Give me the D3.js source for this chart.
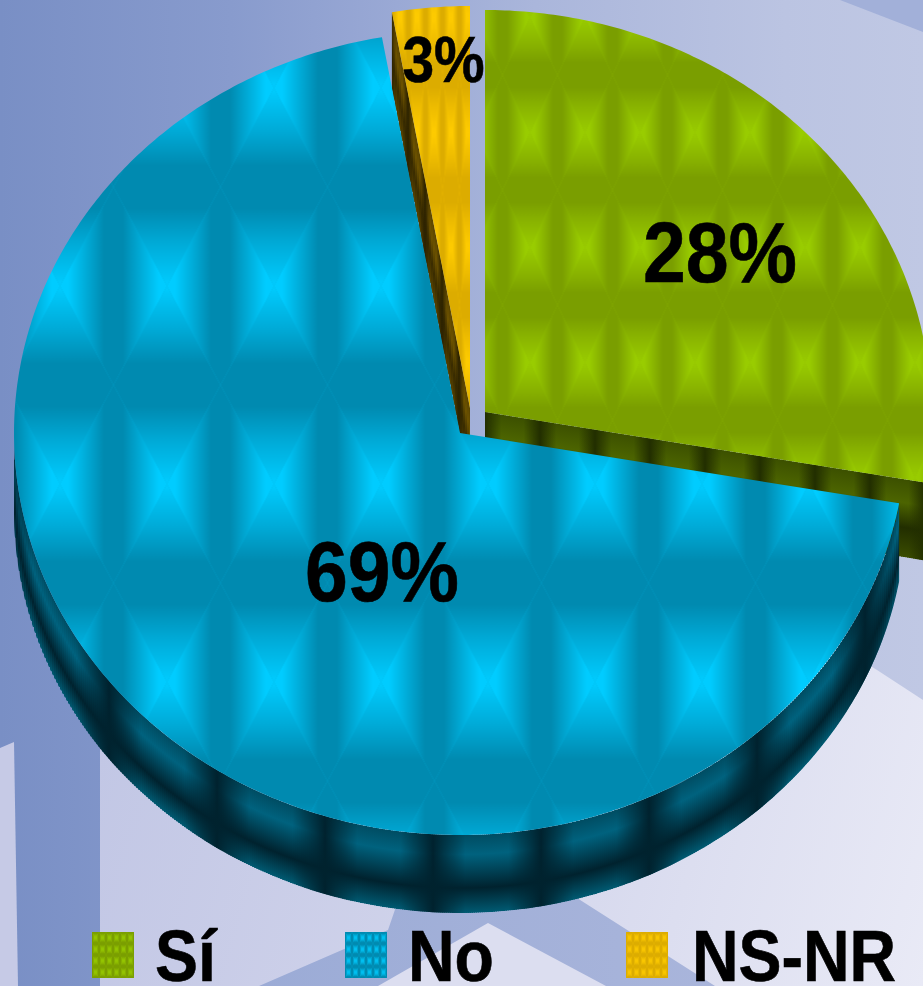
<!DOCTYPE html>
<html lang="es">
<head>
<meta charset="utf-8">
<script src="https://cdn.jsdelivr.net/npm/d3@7/dist/d3.min.js"></script>
<style>
html,body{margin:0;padding:0;background:#fff}
svg{display:block}
text{font-family:"Liberation Sans",Arial,sans-serif;font-weight:700;fill:#000;stroke:#000;stroke-width:.6px}
</style>
</head>
<body>
<div id="chart"></div>
<script>
// ---- data ----
const categories = ["Sí", "No", "NS-NR"];
const shares = [27.8, 69.4, 2.8];          // they print as 28 / 69 / 3 %

// ---- styling & layout ----
const W = 923, H = 986;
const rx = 446, ry = 402, depth = 78;
const centres = [[485, 412], [460, 433], [470, 408]];
const labelPos = [[720, 282], [382, 601], [443.5, 82]];
const labelScale = [[.895, 1], [.895, 1], [.875, 1]];
const labelSize = [86, 86, 65];
const legendSwatchX = [92, 345, 626];
const legendTextX = [155, 408, 692];
const faceDark = ["#7a9e00", "#008ab0", "#dcac00"];
const faceBright = ["#99cc00", "#00ccff", "#ffcc00"];
const wallStops = [
  [[0, "#3c5000"], [.3, "#4c6400"], [.62, "#222e00"], [1, "#3a4c00"]],
  [[0, "#004c62"], [.25, "#00627e"], [.68, "#00222e"], [1, "#005a72"]],
  [[0, "#5a4400"], [.3, "#6c5200"], [.62, "#3a2c00"], [1, "#5a4400"]]
];
const wallDark = ["#222e00", "#00222e", "#2c2200"];
const tiles = [
  {x: 502.5, y: 75, w: 55, h: 115},
  {x: 113.5, y: 187, w: 107, h: 198},
  {x: 425.5, y: 75, w: 17, h: 115}
];
const wallRib = [{x: 485, w: 55}, {x: 109, w: 108}, {x: 425, w: 17}];

const svg = d3.select("#chart").append("svg").attr("width", W).attr("height", H);
const defs = svg.append("defs");

function gradient(id, x1, y1, x2, y2, stops, units) {
  const g = defs.append("linearGradient").attr("id", id)
    .attr("gradientUnits", units || "userSpaceOnUse")
    .attr("x1", x1).attr("y1", y1).attr("x2", x2).attr("y2", y2);
  stops.forEach(s => {
    const st = g.append("stop").attr("offset", s[0]).attr("stop-color", s[1]);
    if (s[2] !== undefined) st.attr("stop-opacity", s[2]);
  });
}

function pillow(id, t, dark, bright) {
  const mix = d3.interpolateRgb(dark, bright);
  const vStops = [[0, dark], [.22, dark], [.58, mix(.5)], [1, bright]];
  const hStops = [[0, dark], [.18, dark], [.85, bright], [1, bright]];
  const hw = t.w / 2, hh = t.h / 2;
  gradient(id + "T", 0, 0, 0, hh, vStops);
  gradient(id + "B", 0, t.h, 0, hh, vStops);
  gradient(id + "L", 0, 0, hw, 0, hStops);
  gradient(id + "R", t.w, 0, hw, 0, hStops);
  const p = defs.append("pattern").attr("id", id).attr("patternUnits", "userSpaceOnUse")
    .attr("x", t.x).attr("y", t.y).attr("width", t.w).attr("height", t.h);
  p.append("rect").attr("width", t.w).attr("height", t.h).attr("fill", mix(.5));
  const tri = [
    ["T", [[0, 0], [t.w, 0], [hw, hh]]],
    ["B", [[0, t.h], [t.w, t.h], [hw, hh]]],
    ["L", [[0, 0], [0, t.h], [hw, hh]]],
    ["R", [[t.w, 0], [t.w, t.h], [hw, hh]]]
  ];
  p.selectAll("polygon").data(tri).join("polygon")
    .attr("points", d => d[1].join(" "))
    .attr("fill", d => `url(#${id}${d[0]})`);
}

// ---- background ----
gradient("bgBase", 0, 0, W, 0, [[0, "#798fc5"], [.25, "#889bcd"], [.43, "#9aa9d5"], [.58, "#aab6db"], [.85, "#bbc4e2"], [1, "#c0c8e4"]]);
gradient("bgLight", 100, 750, 923, 986, [[0, "#c2c7e5"], [.4, "#cfd2ea"], [1, "#e9eaf6"]]);
gradient("bgBand", 250, 0, 715, 0, [[0, "#9babd6"], [1, "#a9b5db"]]);
const bg = svg.append("g");
bg.append("rect").attr("width", W).attr("height", H).attr("fill", "url(#bgBase)");
bg.append("polygon").attr("points", "840,0 923,0 923,32").attr("fill", "#a2b0d9");
bg.append("polygon").attr("points", "100,745 100,986 923,986 923,700 877,670 600,500")
  .attr("fill", "url(#bgLight)");
bg.append("polygon").attr("points", "0,748 14,742 18,986 0,986").attr("fill", "#c6cae6");
bg.append("polygon").attr("points", "259,986 388,930 400,895 488,850 577,898 715,986").attr("fill", "url(#bgBand)");
bg.append("polygon").attr("points", "488,923 378,986 606,986").attr("fill", "#dcdef0");

// ---- pie ----
const pie = d3.pie().sort(null).value(d => d)(shares);
const rim = i => {
  const X = d3.scaleLinear().domain([-1, 1]).range([centres[i][0] - rx, centres[i][0] + rx]);
  const Y = d3.scaleLinear().domain([-1, 1]).range([centres[i][1] - ry, centres[i][1] + ry]);
  return a => [X(Math.sin(a)), Y(-Math.cos(a))];
};
const line = d3.line();

function sliceFace(i) {
  const p = rim(i), s = pie[i];
  const n = Math.ceil((s.endAngle - s.startAngle) * 90);
  const pts = d3.range(n + 1).map(k => p(s.startAngle + (s.endAngle - s.startAngle) * k / n));
  return line([centres[i], ...pts]) + "Z";
}

// wall: a polyline of top-edge points, extruded down by `depth`
function drawWall(i, topPts, g) {
  const xs = topPts.map(d => d[0]);
  const ordered = topPts.slice().sort((a, b) => a[0] - b[0]);
  const topAt = d3.scaleLinear().domain(ordered.map(d => d[0])).range(ordered.map(d => d[1])).clamp(true);
  const outline = line([...ordered, ...ordered.slice().reverse().map(d => [d[0], d[1] + depth])]) + "Z";
  const clipId = "wallClip" + i, gradId = "wallV" + i, ribId = "wallRib" + i;
  defs.append("clipPath").attr("id", clipId).append("path").attr("d", outline);
  gradient(gradId, 0, 0, 0, 1, wallStops[i], "objectBoundingBox");
  const r = wallRib[i];
  gradient(ribId + "G", 0, 0, r.w, 0, [[0, wallDark[i], 1], [.3, wallDark[i], 0], [.7, wallDark[i], 0], [1, wallDark[i], 1]]);
  defs.append("pattern").attr("id", ribId).attr("patternUnits", "userSpaceOnUse")
    .attr("x", r.x).attr("y", 0).attr("width", r.w).attr("height", H)
    .append("rect").attr("width", r.w).attr("height", H).attr("fill", `url(#${ribId}G)`);
  const wg = g.append("g").attr("clip-path", `url(#${clipId})`);
  const x0 = Math.floor(d3.min(xs)), x1 = Math.ceil(d3.max(xs));
  wg.selectAll("rect").data(d3.range(x0, x1, 2)).join("rect")
    .attr("x", d => d).attr("width", 3)
    .attr("y", d => topAt(d + 1)).attr("height", depth)
    .attr("fill", `url(#${gradId})`);
  g.append("path").attr("d", outline).attr("fill", `url(#${ribId})`);
}

const chart = svg.append("g");
categories.forEach((c, i) => pillow("tex" + i, tiles[i], faceDark[i], faceBright[i]));

// far to near: NS-NR, Sí, No
[2, 0, 1].forEach(i => {
  const g = chart.append("g").attr("class", "slice");
  const s = pie[i], p = rim(i);
  let top;
  if (i === 1) {
    const a0 = s.startAngle, a1 = Math.min(s.endAngle, Math.PI * 1.5);
    const n = 240;
    top = d3.range(n + 1).map(k => p(a0 + (a1 - a0) * k / n));
  } else if (i === 0) {
    top = [centres[0], p(s.endAngle)];
  } else {
    top = [p(s.startAngle), centres[2]];
  }
  drawWall(i, top, g);
  g.append("path").attr("d", sliceFace(i)).attr("fill", `url(#tex${i})`);
});

// ---- slice labels ----
const pct = d3.format(".0f");
svg.append("g").selectAll("text").data(pie).join("text")
  .attr("text-anchor", "middle")
  .attr("font-size", (d, i) => labelSize[i])
  .attr("transform", (d, i) => `translate(${labelPos[i][0]},${labelPos[i][1]}) scale(${labelScale[i][0]},${labelScale[i][1]})`)
  .text(d => pct(d.data) + "%");

// ---- legend ----
const swatchTile = {w: 7, h: 11.5};
const legend = svg.append("g");
categories.forEach((c, i) => {
  pillow("sw" + i, {x: legendSwatchX[i], y: 932, w: swatchTile.w, h: swatchTile.h}, faceDark[i], faceBright[i]);
  legend.append("rect").attr("x", legendSwatchX[i]).attr("y", 932).attr("width", 42).attr("height", 46)
    .attr("fill", `url(#sw${i})`);
  legend.append("text").attr("font-size", 72)
    .attr("transform", `translate(${legendTextX[i]},981) scale(.895,1)`)
    .text(c);
});
</script>
</body>
</html>
